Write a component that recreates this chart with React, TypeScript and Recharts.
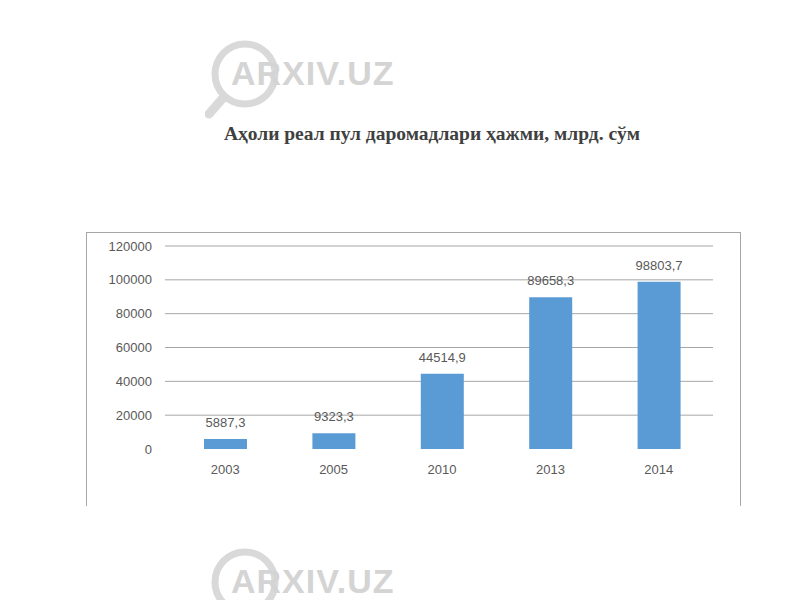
import React from 'react';
import { BarChart, Bar, XAxis, YAxis, CartesianGrid, LabelList } from 'recharts';

const years = ['2003', '2005', '2010', '2013', '2014'];
const incomes = [5887.3, 9323.3, 44514.9, 89658.3, 98803.7];
const yTicks = [0, 20000, 40000, 60000, 80000, 100000, 120000];

const TEXT = '#595959';
const BAR = '#5b9bd5';

const chartData = years.map((year, i) => ({ year, value: incomes[i] }));

const fmt = (v: any) => String(v).replace('.', ',');

const Watermark = ({ top }: { top: number }) => (
  <div style={{ position: 'absolute', left: 205, top, width: 200, height: 80 }}>
    <svg width={200} height={80} style={{ position: 'absolute', left: 0, top: 0 }}>
      <circle cx={40} cy={34} r={30} fill="none" stroke="#d9d9d9" strokeWidth={7} />
      <line x1={18} y1={58} x2={4} y2={74} stroke="#d9d9d9" strokeWidth={9} strokeLinecap="round" />
    </svg>
    <div
      style={{
        position: 'absolute',
        left: 26,
        top: 14,
        fontFamily: '"Liberation Sans", Arial, sans-serif',
        fontWeight: 'bold',
        fontSize: 34,
        letterSpacing: 1,
        color: '#d4d4d4',
      }}
    >
      ARXIV.UZ
    </div>
  </div>
);

export default function App() {
  return (
    <div style={{ position: 'absolute', left: 0, top: 0, width: 800, height: 600, background: '#fff', overflow: 'hidden' }}>
      <Watermark top={40} />
      <Watermark top={548} />
      <div
        style={{
          position: 'absolute',
          left: 0,
          width: 800,
          top: 123,
          paddingLeft: 64,
          boxSizing: 'border-box',
          textAlign: 'center',
          fontFamily: '"Liberation Serif", "Times New Roman", serif',
          fontWeight: 'bold',
          fontSize: 19.5,
          color: '#404040',
        }}
      >
        Аҳоли реал пул даромадлари ҳажми, млрд. сўм
      </div>
      <div
        style={{
          position: 'absolute',
          left: 86,
          top: 232,
          width: 653,
          height: 273,
          borderTop: '1px solid #a6a6a6',
          borderLeft: '1px solid #a6a6a6',
          borderRight: '1px solid #a6a6a6',
        }}
      />
      <div style={{ position: 'absolute', left: 0, top: 0 }}>
        <BarChart
          width={800}
          height={600}
          data={chartData}
          margin={{ top: 246, right: 87, bottom: 151 - 30, left: 95 }}
          barSize={43}
        >
          <CartesianGrid
            vertical={false}
            horizontalValues={yTicks.slice(1)}
            stroke="#a6a6a6"
            strokeWidth={1}
          />
          <XAxis
            dataKey="year"
            height={30}
            axisLine={false}
            tickLine={false}
            padding={{ left: 6, right: 0 }}
            tick={{ fill: TEXT, fontSize: 13, fontFamily: '"Liberation Sans", Arial, sans-serif' }}
            tickMargin={10}
          />
          <YAxis
            width={70}
            domain={[0, 120000]}
            ticks={yTicks}
            axisLine={false}
            tickLine={false}
            tickMargin={7}
            tick={{ fill: TEXT, fontSize: 13, fontFamily: '"Liberation Sans", Arial, sans-serif' }}
          />
          <Bar dataKey="value" fill={BAR} isAnimationActive={false}>
            <LabelList
              dataKey="value"
              position="top"
              offset={12}
              formatter={fmt}
              fill={TEXT}
              fontSize={13}
              fontFamily='"Liberation Sans", Arial, sans-serif'
            />
          </Bar>
        </BarChart>
      </div>
    </div>
  );
}
